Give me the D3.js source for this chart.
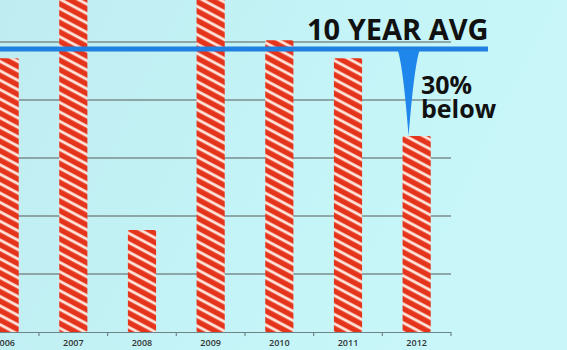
<!DOCTYPE html>
<html>
  <head>
    <title>10 Year Avg</title>
    <style>
      body {margin:0; background:#c3f1f4;}
      svg {display:block;}
      .note {font-family:"Open Sans", sans-serif; fill:#111;}
      .axis text {font-family:"Open Sans", sans-serif; font-size:9px; font-weight:600; fill:#333;}
      .axis path, .axis line {stroke:#6f8486; stroke-width:1.2px;}
    </style>
    <script src="https://cdn.jsdelivr.net/npm/d3@7/dist/d3.min.js"></script>
  </head>
  <body>
    <svg id="chart" width="567" height="350"></svg>
    <script>
      var years   = ["2006","2007","2008","2009","2010","2011","2012"];
      var values  = [4.72, 6.1, 1.76, 6.2, 5.03, 4.72, 3.38];
      var avg     = 4.88;
      var gridVals = [1, 2, 3, 4, 5];
      var title   = "10 YEAR AVG";
      var note    = ["30%", "below"];

      var svg = d3.select("#chart");
      var defs = svg.append("defs");

      var bg = defs.append("linearGradient").attr("id","bg")
                   .attr("x1","0").attr("y1","0").attr("x2","1").attr("y2","0.3");
      bg.append("stop").attr("offset","0").attr("stop-color","#bfecf0");
      bg.append("stop").attr("offset","0.6").attr("stop-color","#c4f4f7");
      bg.append("stop").attr("offset","1").attr("stop-color","#c9f7f9");

      var pat = defs.append("pattern").attr("id","stripes")
                    .attr("patternUnits","userSpaceOnUse")
                    .attr("width",8.3).attr("height",8.3)
                    .attr("patternTransform","rotate(28)");
      pat.append("rect").attr("width",8.3).attr("height",8.3).attr("fill","#e5341c");
      pat.append("rect").attr("y",3).attr("width",8.3).attr("height",2.8).attr("fill","#ffe6dc");

      svg.append("rect").attr("width",567).attr("height",350).attr("fill","url(#bg)");

      var x = d3.scaleBand().domain(years).range([-29.7, 451]).padding(0);
      var y = d3.scaleLinear().domain([0, 5]).range([332, 42]);
      var barW = x.bandwidth() * 0.41;

      // grid
      svg.selectAll(".grid").data(gridVals).enter()
         .append("line").attr("class","grid")
         .attr("x1",-30).attr("x2",451)
         .attr("y1",function(d){return y(d);}).attr("y2",function(d){return y(d);})
         .attr("stroke","#7b8c8e").attr("stroke-width",1.3);

      // bars
      svg.selectAll(".bar").data(values).enter()
         .append("rect").attr("class","bar")
         .attr("x",function(d,i){return x(years[i]) + (x.bandwidth()-barW)/2;})
         .attr("y",function(d){return y(d);})
         .attr("width",barW)
         .attr("height",function(d){return y(0)-y(d);})
         .attr("rx",1.5)
         .attr("fill","url(#stripes)");

      // axis
      var axis = svg.append("g").attr("class","axis").attr("transform","translate(0,"+y(0)+")");
      axis.call(d3.axisBottom(x).tickSize(0).tickPadding(8));
      axis.select(".domain").remove();
      axis.append("line").attr("x1",-30).attr("x2",451).attr("y1",0.5).attr("y2",0.5);
      axis.selectAll(".btick").data(years).enter()
          .append("line").attr("class","btick")
          .attr("x1",function(d){return x(d)+x.bandwidth();})
          .attr("x2",function(d){return x(d)+x.bandwidth();})
          .attr("y1",0).attr("y2",4);

      // average line
      var ay = y(avg);
      svg.append("line").attr("x1",0).attr("x2",488).attr("y1",ay).attr("y2",ay)
         .attr("stroke","#1f80e2").attr("stroke-width",5);

      // drip down to 2012 (sits a little left of the bar centre)
      var last = years.length - 1;
      var cx = x(years[last]) + x.bandwidth()/2 - 8;
      var dTop = ay + 1, dBot = y(values[last]);
      var h = dBot - dTop;
      svg.append("path")
         .attr("d","M"+(cx-11)+","+dTop+
                   " C"+(cx-7)+","+(dTop+h*0.13)+" "+(cx-3)+","+(dTop+h*0.55)+" "+cx+","+dBot+
                   " C"+(cx+3)+","+(dTop+h*0.55)+" "+(cx+7)+","+(dTop+h*0.13)+" "+(cx+11)+","+dTop+" Z")
         .attr("fill","#1f86ec");

      svg.append("text").attr("class","note")
         .attr("x",307).attr("y",40)
         .style("font-size","29px").style("font-weight",700)
         .text(title);
      svg.append("text").attr("class","note")
         .attr("x",421).attr("y",94)
         .style("font-size","25px").style("font-weight",700)
         .text(note[0]);
      svg.append("text").attr("class","note")
         .attr("x",421).attr("y",118)
         .style("font-size","25px").style("font-weight",700)
         .text(note[1]);
    </script>
  </body>
</html>
